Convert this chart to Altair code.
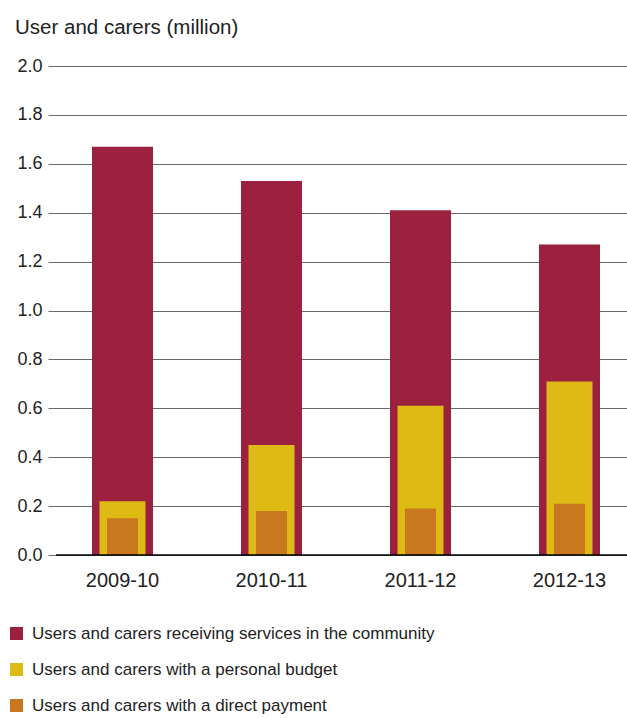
import altair as alt
import pandas as pd

years = ["2009-10", "2010-11", "2011-12", "2012-13"]
community = [1.67, 1.53, 1.41, 1.27]
personal_budget = [0.22, 0.45, 0.61, 0.71]
direct_payment = [0.15, 0.18, 0.19, 0.21]

series_names = [
    "Users and carers receiving services in the community",
    "Users and carers with a personal budget",
    "Users and carers with a direct payment",
]
colors = ["#9C213E", "#DEBA14", "#C8781E"]

rows = []
for name, vals in zip(series_names, [community, personal_budget, direct_payment]):
    for y, v in zip(years, vals):
        rows.append({"year": y, "series": name, "value": v})
df = pd.DataFrame(rows)

FONT = "Liberation Sans"

x_enc = alt.X("year:N", sort=years,
              scale=alt.Scale(range=[-8, 588], paddingInner=0, paddingOuter=0),
              axis=alt.Axis(title=None, labelAngle=0, domain=False, ticks=False,
                            labelFontSize=20, labelColor="#222", labelPadding=15,
                            labelFont=FONT))
y_enc = alt.Y("value:Q", scale=alt.Scale(domain=[0, 2]),
              axis=alt.Axis(title=None, values=[0, 0.2, 0.4, 0.6, 0.8, 1.0, 1.2, 1.4, 1.6, 1.8, 2.0],
                            format=".1f", domain=False, ticks=False, grid=True,
                            gridColor="#6a6a6a", gridWidth=1.2, labelFontSize=18,
                            labelColor="#222", labelPadding=14, labelFont=FONT))
color_enc = alt.Color("series:N",
                      scale=alt.Scale(domain=series_names, range=colors),
                      legend=alt.Legend(title=None, orient="none", legendX=-48, legendY=559,
                                        symbolType="square", symbolSize=169,
                                        symbolStrokeWidth=0, symbolOpacity=1,
                                        labelFontSize=17, labelColor="#222", labelFont=FONT,
                                        labelOffset=7, rowPadding=18, labelLimit=600))

base = alt.Chart(df)
layers = []
for name, size in zip(series_names, [61, 46, 31]):
    layers.append(
        base.transform_filter(alt.datum.series == name)
        .mark_bar(size=size)
        .encode(x=x_enc, y=y_enc, color=color_enc)
    )

zero_rule = alt.Chart(pd.DataFrame({"v": [0]})).mark_rule(color="#000", strokeWidth=1.5).encode(
    y=alt.Y("v:Q"), x=alt.value(0), x2=alt.value(571)
)

chart = alt.layer(*layers, zero_rule).properties(
    width=571, height=489,
    autosize=alt.AutoSizeParams(type="none"),
    padding={"left": 56, "top": 66, "right": 0, "bottom": 163},
    title=alt.TitleParams("User and carers (million)", anchor="start", dx=7,
                          fontSize=20.5, font=FONT, fontWeight="normal", color="#222",
                          offset=19),
).configure_view(stroke=None)

chart.save("out.html", embed_options={"renderer": "svg", "actions": False})
